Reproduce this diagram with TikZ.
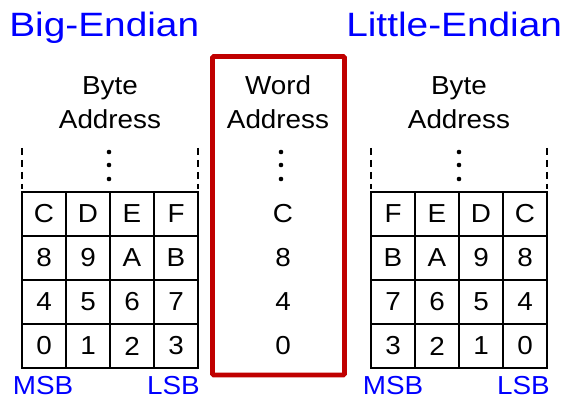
\documentclass[tikz,border=0pt]{standalone}
\usepackage{fontspec}
\setmainfont{Liberation Sans}[FakeStretch=1.07]
\newfontfamily\titlefont{Liberation Sans}[FakeStretch=1.15]
\usepackage{tikz}
\usepackage{xcolor}
\usetikzlibrary{positioning}

\definecolor{endianblue}{RGB}{0,0,255}
\definecolor{wordred}{RGB}{192,0,0}

\begin{document}
\begin{tikzpicture}[x=0.025cm, y=-0.025cm,
    title/.style={endianblue, font=\titlefont\fontsize{24}{28}\selectfont, inner sep=0pt},
    head/.style={font=\fontsize{18.5}{22}\selectfont, inner sep=0pt, anchor=base},
    cell/.style={draw, line width=0.9pt, minimum size=1.1cm, inner sep=0pt,
                 font=\fontsize{18.5}{22}\selectfont},
    val/.style={font=\fontsize{18.5}{22}\selectfont, inner sep=0pt},
    side/.style={endianblue, font=\fontsize{18.5}{22}\selectfont, inner sep=0pt, anchor=base},
    guide/.style={line width=0.9pt, dash pattern=on 5pt off 3.5pt}]
    \useasboundingbox (0,0) rectangle (563,399);

    % titles
    \node[title, anchor=base west] (big) at (9,37) {Big-Endian};
    \node[title, anchor=base west] (little) at (346,37) {Little-Endian};

    % column headings
    \node[head] (bbyte) at (110,95) {Byte};
    \node[head] (baddr) at (110,129) {Address};
    \node[head] (wword) at (278,95) {Word};
    \node[head] (waddr) at (278,129) {Address};
    \node[head] (lbyte) at (459,95) {Byte};
    \node[head] (laddr) at (459,129) {Address};

    % more memory above
    \draw[guide] (22,148) -- (22,189);
    \draw[guide] (198,148) -- (198,189);
    \draw[guide] (371,148) -- (371,189);
    \draw[guide] (547,148) -- (547,189);
    \foreach \x in {109,281,459}
        \foreach \y in {152,165,179}
            \fill (\x,\y) circle (2.3);

    % bytes of each word
    \foreach \a/\b/\c/\d [count=\r] in {C/D/E/F, 8/9/A/B, 4/5/6/7, 0/1/2/3} {
        \node[cell] (big-\r-1) at (44,170+44*\r) {\a};
        \node[cell] (big-\r-2) at (88,170+44*\r) {\b};
        \node[cell] (big-\r-3) at (132,170+44*\r) {\c};
        \node[cell] (big-\r-4) at (176,170+44*\r) {\d};
        \node[val] (word-\r) at (283,170+44*\r) {\a};
        \node[cell] (little-\r-1) at (393,170+44*\r) {\d};
        \node[cell] (little-\r-2) at (437,170+44*\r) {\c};
        \node[cell] (little-\r-3) at (481,170+44*\r) {\b};
        \node[cell] (little-\r-4) at (525,170+44*\r) {\a};
    }

    % word address column
    \draw[wordred, line width=3.5pt, rounded corners=1pt] (212.5,56.5) rectangle (344.5,375);

    % byte order
    \node[side] (bmsb) at (43,394) {MSB};
    \node[side] (blsb) at (173.5,394) {LSB};
    \node[side] (lmsb) at (393,394) {MSB};
    \node[side] (llsb) at (523.5,394) {LSB};
\end{tikzpicture}
\end{document}
